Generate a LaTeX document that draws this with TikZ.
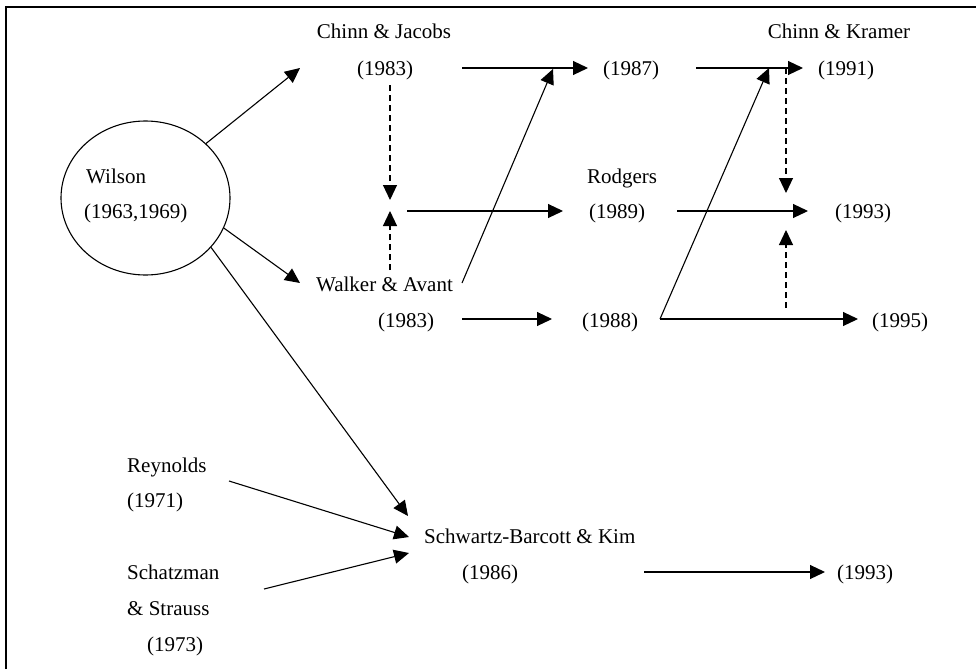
\documentclass[tikz,border=0pt]{standalone}
\usepackage{fontspec}
\setmainfont{Liberation Serif}
\usetikzlibrary{arrows.meta,shapes.geometric}
\begin{document}
\begin{tikzpicture}[x=1pt,y=-1pt,
  txt/.style={inner sep=0pt, anchor=base, font=\fontsize{21}{25}\selectfont},
  ltxt/.style={txt, anchor=base west},
  arr/.style={-{Triangle[length=15pt,width=14pt]}, line width=1.1pt},
  darr/.style={arr, dash pattern=on 6pt off 4pt},
  frame/.style={line width=1.5pt}]
\useasboundingbox (0,0) rectangle (976,669);
% frame (top and left edges visible)
\coordinate (fbl) at (6,669);
\coordinate (ftl) at (6,7);
\coordinate (ftr) at (976,7);
\draw[frame] (fbl) -- (ftl) -- (ftr);

% Wilson
\node[draw, ellipse, line width=1.1pt, minimum width=169pt, minimum height=154pt, inner sep=0pt] (W) at (145.5,198) {};
\node[ltxt] (wil) at (86,183) {Wilson};
\node[ltxt] (wily) at (84,218) {(1963,1969)};

% upper texts
\node[txt] (cj) at (384,39) {Chinn \& Jacobs};
\node[txt] (cj83) at (385,75) {(1983)};
\node[txt] (y87) at (631,75) {(1987)};
\node[txt] (ck) at (839,39) {Chinn \& Kramer};
\node[txt] (y91) at (846,75) {(1991)};
\node[txt] (rod) at (622,183) {Rodgers};
\node[txt] (y89) at (617,218) {(1989)};
\node[txt] (y93a) at (863,218) {(1993)};
\node[txt] (wa) at (384.5,291) {Walker \& Avant};
\node[txt] (wa83) at (406,327) {(1983)};
\node[txt] (y88) at (610,327) {(1988)};
\node[txt] (y95) at (900,327) {(1995)};

% lower texts
\node[ltxt] (rey) at (127,472) {Reynolds};
\node[ltxt] (rey71) at (127,507) {(1971)};
\node[ltxt] (sch) at (127,579) {Schatzman};
\node[ltxt] (str) at (127,615) {\& Strauss};
\node[ltxt] (sch73) at (147,651) {(1973)};
\node[ltxt] (sbk) at (424,543) {Schwartz-Barcott \& Kim};
\node[ltxt] (y86) at (462,579) {(1986)};
\node[ltxt] (y93b) at (837,579) {(1993)};

% connector end points
\coordinate (toCJ) at (300,68);
\coordinate (toWA) at (300,283);
\coordinate (toSBKa) at (408,516);
\coordinate (reyOut) at (229,481);
\coordinate (toSBKb) at (409,537);
\coordinate (schOut) at (264,589);
\coordinate (toSBKc) at (409,553);
\coordinate (y86Out) at (644,572);
\coordinate (toY93b) at (825,572);
\coordinate (cj83Out) at (462,68);
\coordinate (toY87) at (588,68);
\coordinate (y87Out) at (696,68);
\coordinate (toY91) at (803,68);
\coordinate (waOut) at (462,283);
\coordinate (toY87b) at (553,69);
\coordinate (cjDown) at (390,85);
\coordinate (cjTip) at (390,200);
\coordinate (waUp) at (390,270);
\coordinate (waTip) at (390,211);
\coordinate (midOut) at (407,211);
\coordinate (toY89) at (563,211);
\coordinate (y89Out) at (677,211);
\coordinate (toY93a) at (808,211);
\coordinate (wa83Out) at (462,319);
\coordinate (toY88) at (552,319);
\coordinate (y88Out) at (660,319);
\coordinate (toY91b) at (769,68);
\coordinate (toY95) at (858,319);
\coordinate (ckDown) at (786,68);
\coordinate (ckTip) at (786,193);
\coordinate (lowUp) at (786,308);
\coordinate (lowTip) at (786,230);

% connectors
\draw[arr] (W.42) -- (toCJ);
\draw[arr] (W.-21) -- (toWA);
\draw[arr] (W.-37) -- (toSBKa);
\draw[arr] (reyOut) -- (toSBKb);
\draw[arr] (schOut) -- (toSBKc);
\draw[arr] (y86Out) -- (toY93b);
\draw[arr] (cj83Out) -- (toY87);
\draw[arr] (y87Out) -- (toY91);
\draw[arr] (waOut) -- (toY87b);
\draw[darr] (cjDown) -- (cjTip);
\draw[darr] (waUp) -- (waTip);
\draw[arr] (midOut) -- (toY89);
\draw[arr] (y89Out) -- (toY93a);
\draw[arr] (wa83Out) -- (toY88);
\draw[arr] (y88Out) -- (toY91b);
\draw[arr] (y88Out) -- (toY95);
\draw[darr] (ckDown) -- (ckTip);
\draw[darr] (lowUp) -- (lowTip);
\end{tikzpicture}
\end{document}
